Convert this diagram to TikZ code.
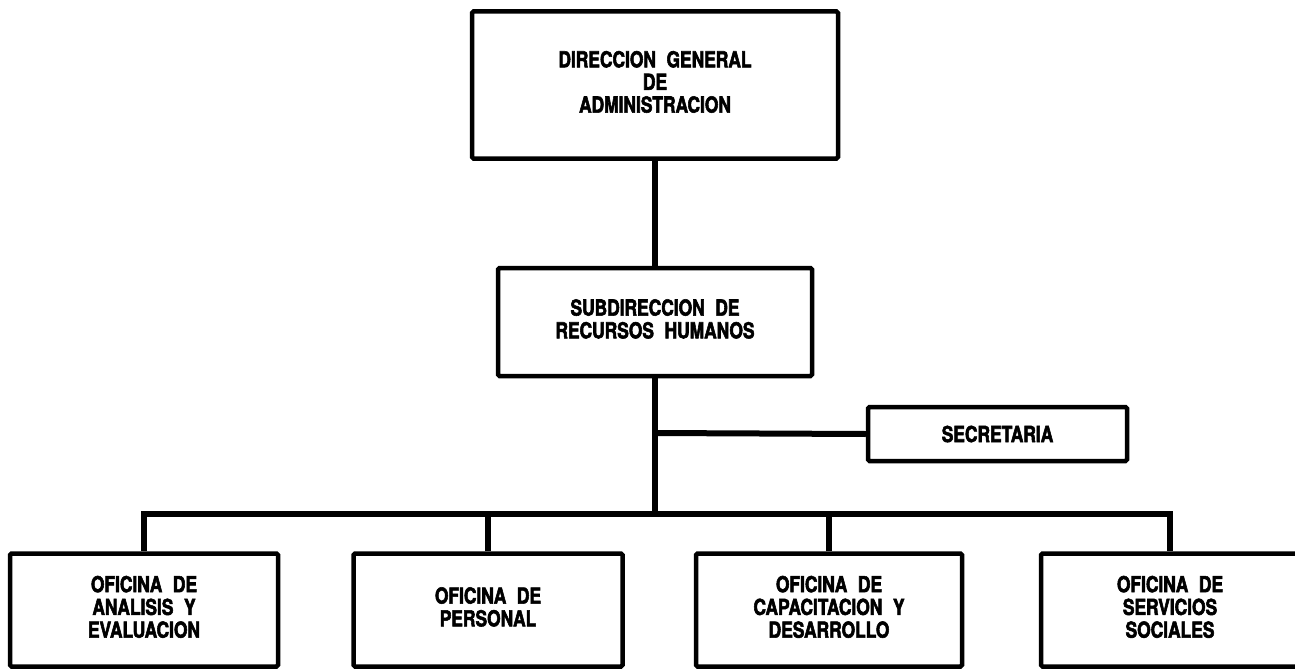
\documentclass[tikz,border=0pt]{standalone}
\usepackage{fontspec}
\newfontfamily\lblfont[FakeStretch=0.79,WordSpace=2.2,FakeBold=2.5]{texgyreheros-bold.otf}
\newcommand\boxtext[2]{\raisebox{#1}{\begin{tabular}{@{}c@{}}#2\end{tabular}}}
\begin{document}
\begin{tikzpicture}[x=1pt,y=-1pt,
  box/.style={draw, line width=4.5pt, rounded corners=1.5pt, align=center,
    font=\lblfont\fontsize{22}{21.5}\selectfont, inner sep=0pt},
  conn/.style={line width=6pt}]
\useasboundingbox (0,0) rectangle (1295,669);
\node[box, minimum width=366pt, minimum height=147pt] (dg) at (655,85) {\boxtext{-3pt}{DIRECCION GENERAL\\DE\\ADMINISTRACION}};
\node[box, minimum width=314pt, minimum height=108pt] (sub) at (655,322) {\boxtext{-3pt}{SUBDIRECCION DE\\RECURSOS HUMANOS}};
\node[box, minimum width=259pt, minimum height=54pt] (sec) at (997.5,434) {SECRETARIA};
\node[box, minimum width=268pt, minimum height=113pt] (b1) at (144,610) {\boxtext{-6pt}{OFICINA DE\\ANALISIS Y\\EVALUACION}};
\node[box, minimum width=269pt, minimum height=113pt] (b2) at (488,610) {\boxtext{-3pt}{OFICINA DE\\PERSONAL}};
\node[box, minimum width=266pt, minimum height=113pt] (b3) at (829,610) {\boxtext{-5pt}{OFICINA DE\\CAPACITACION Y\\DESARROLLO}};
\node[box, minimum width=258pt, minimum height=113pt] (b4) at (1170,610) {\boxtext{-6pt}{OFICINA DE\\SERVICIOS\\SOCIALES}};
\coordinate (j) at (655,433);
\coordinate (bus) at (655,514);
\draw[conn] (dg.south) -- (sub.north);
\draw[conn] (sub.south) -- (bus);
\draw[conn] (j) -- (sec.west);
\draw[conn] (b1.north) |- (b4.north |- bus) -- (b4.north);
\draw[conn] (b2.north) -- (b2.north |- bus);
\draw[conn] (b3.north) -- (b3.north |- bus);
\end{tikzpicture}
\end{document}
